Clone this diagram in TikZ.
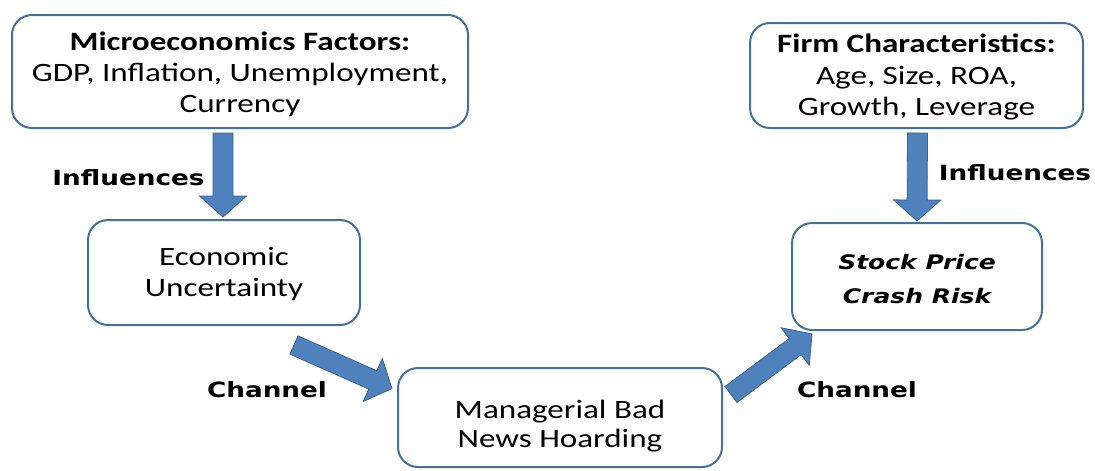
\documentclass[tikz,border=0pt]{standalone}
\usepackage{fontspec}
\setmainfont{Carlito}[FakeStretch=1.25]
\newfontfamily\lblfont{DejaVu Sans}[FakeStretch=1.25]
\usetikzlibrary{calc}
\definecolor{boxedge}{HTML}{41719C}
\definecolor{arrfill}{HTML}{4F81BD}
\definecolor{arredge}{HTML}{3A6494}
\newcommand\topgap[1]{\rule{0pt}{#1}}
\tikzset{
  box/.style={draw=boxedge, line width=2pt, rounded corners=20pt, align=center,
    font=\fontsize{26.5}{31}\selectfont, inner sep=0pt},
  lbl/.style={font=\lblfont\bfseries\fontsize{21}{25}\selectfont, inner sep=0pt},
  blockarrow/.style={fill=arrfill, draw=arredge, line width=0.8pt, line join=miter,
    to path={let \p1=(\tikztostart), \p2=(\tikztotarget),
      \n1={atan2(\y2-\y1,\x2-\x1)} in
      ($(\p1)+(\n1+90:10pt)$) -- ($(\p2)!21pt!(\p1)+(\n1+90:10pt)$)
      -- ($(\p2)!21pt!(\p1)+(\n1+90:23.5pt)$) -- (\p2)
      -- ($(\p2)!21pt!(\p1)+(\n1-90:23.5pt)$) -- ($(\p2)!21pt!(\p1)+(\n1-90:10pt)$)
      -- ($(\p1)+(\n1-90:10pt)$) -- cycle}},
}
\begin{document}
\begin{tikzpicture}[x=1pt, y=-1pt]
\useasboundingbox (0,0) rectangle (1095,471);
% boxes
\node[box, minimum width=456pt, minimum height=113pt] (m) at (240,71.5)
  {\topgap{25pt}\textbf{Microeconomics Factors:}\\GDP, Inflation, Unemployment,\\Currency};
\node[box, minimum width=272pt, minimum height=105pt] (e) at (224,272.5)
  {\topgap{21pt}Economic\\Uncertainty};
\node[box, minimum width=324pt, minimum height=99pt, font=\fontsize{26.5}{29}\selectfont] (h) at (560,417.5)
  {\topgap{35pt}Managerial Bad\\News Hoarding};
\node[box, minimum width=333pt, minimum height=105pt, font=\fontsize{26.5}{31.5}\selectfont] (f) at (916.5,75.5)
  {\topgap{22pt}\textbf{Firm Characteristics:}\\Age, Size, ROA,\\Growth, Leverage};
\node[box, minimum width=250pt, minimum height=107pt,
  font=\lblfont\bfseries\itshape\fontsize{20}{34}\selectfont] (s) at (917,276.5)
  {\topgap{20pt}Stock Price\\Crash Risk};
% labels
\node[lbl] (l1) at (128.5,178) {Influences};
\node[lbl] (l2) at (1015,173) {Influences};
\node[lbl] (l3) at (267,390) {Channel};
\node[lbl] (l4) at (857,390) {Channel};
% arrow ends
\coordinate (a1s) at ($(m.south)+(-17,4)$);
\coordinate (a1e) at ($(e.north)+(-1,-2)$);
\coordinate (a2s) at ($(e.south east)+(-67,19)$);
\coordinate (a2e) at ($(h.west)+(-5,-29)$);
\coordinate (a3s) at ($(h.east)+(8,-23)$);
\coordinate (a3e) at ($(s.south west)+(21,3)$);
\coordinate (a4s) at ($(f.south)+(1,4)$);
\coordinate (a4e) at ($(s.north)+(0,-1)$);
\path[blockarrow] (a1s) to (a1e);
\path[blockarrow] (a2s) to (a2e);
\path[blockarrow] (a3s) to (a3e);
\path[blockarrow] (a4s) to (a4e);
\end{tikzpicture}
\end{document}
